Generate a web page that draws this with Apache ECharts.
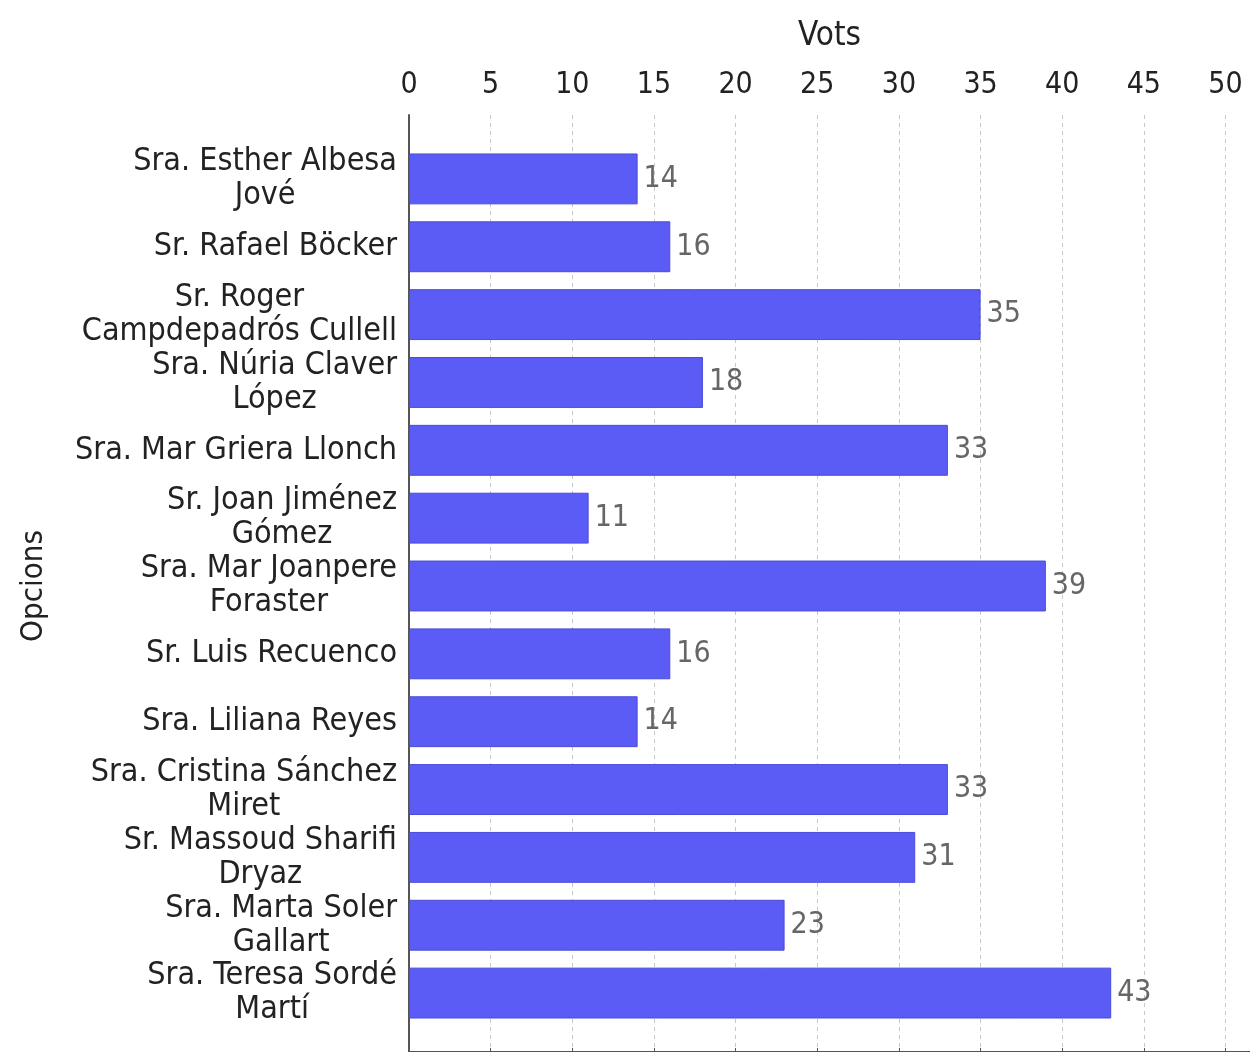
<!DOCTYPE html>
<html>
<head>
<meta charset="utf-8">
<script src="https://cdn.jsdelivr.net/npm/echarts@6/dist/echarts.min.js"></script>
<style>
  html, body { margin: 0; padding: 0; background: #fff; }
  #chart { width: 1250px; height: 1052px; }
</style>
</head>
<body>
<div id="chart"></div>
<script>
// Opcions (labels broken the same way as in the picture)
const candidates = [
  'Sra. Esther Albesa\nJové',
  'Sr. Rafael Böcker',
  'Sr. Roger\nCampdepadrós Cullell',
  'Sra. Núria Claver\nLópez',
  'Sra. Mar Griera Llonch',
  'Sr. Joan Jiménez\nGómez',
  'Sra. Mar Joanpere\nForaster',
  'Sr. Luis Recuenco',
  'Sra. Liliana Reyes',
  'Sra. Cristina Sánchez\nMiret',
  'Sr. Massoud Sharifi\nDryaz',
  'Sra. Marta Soler\nGallart',
  'Sra. Teresa Sordé\nMartí'
];
const votes = [14, 16, 35, 18, 33, 11, 39, 16, 14, 33, 31, 23, 43];

const FONT = '"DejaVu Sans Condensed", "DejaVu Sans", sans-serif';
const AXIS_MAX = 51.5;

const chart = echarts.init(document.getElementById('chart'), null, { renderer: 'canvas' });

const option = {
  backgroundColor: '#fff',
  animation: false,
  grid: [
    // frame: top axis line, dashed grid lines, left axis line
    { left: 409, top: 115, width: 842, height: 960, containLabel: false },
    // bars
    { left: 409, top: 145, width: 842, height: 882, containLabel: false }
  ],
  xAxis: [
    {
      gridIndex: 0,
      type: 'value',
      position: 'top',
      min: 0,
      max: AXIS_MAX,
      interval: 5,
      name: 'Vots',
      nameLocation: 'middle',
      nameGap: 62,
      nameTextStyle: { fontFamily: FONT, fontSize: 33, color: '#222' },
      axisLine: { show: true, lineStyle: { color: '#555', width: 2 } },
      axisTick: { show: true, length: 4, lineStyle: { color: '#555' } },
      axisLabel: {
        fontFamily: FONT, fontSize: 30, color: '#222', margin: 15,
        showMaxLabel: false,
        formatter: v => (v % 5 === 0 ? String(v) : '')
      },
      splitLine: { show: true, lineStyle: { color: '#c8c8c8', type: [4, 4], width: 1 } }
    },
    {
      gridIndex: 1,
      type: 'value',
      min: 0,
      max: AXIS_MAX,
      show: false
    }
  ],
  yAxis: [
    {
      gridIndex: 0,
      type: 'value',
      min: 0,
      max: 1,
      axisLine: { show: true, lineStyle: { color: '#555', width: 2 } },
      axisTick: { show: false },
      axisLabel: { show: false },
      splitLine: { show: false }
    },
    {
      gridIndex: 1,
      type: 'category',
      inverse: true,
      data: candidates,
      name: 'Opcions',
      nameLocation: 'middle',
      nameGap: 360,
      nameTextStyle: { fontFamily: FONT, fontSize: 31, color: '#222' },
      axisLine: { show: false },
      axisTick: { show: false },
      axisLabel: {
        margin: 12,
        formatter: v => v.split('\n').map(s => '{c|' + s + '}').join('\n'),
        rich: {
          c: { fontFamily: FONT, fontSize: 32, lineHeight: 34, color: '#222', align: 'center' }
        }
      }
    }
  ],
  series: [
    {
      type: 'bar',
      xAxisIndex: 1,
      yAxisIndex: 1,
      data: votes,
      barCategoryGap: '25%',
      itemStyle: { color: '#5b5bf6', borderColor: '#4b4bd8', borderWidth: 1 },
      label: {
        show: true,
        position: 'right',
        distance: 6,
        fontFamily: FONT,
        fontSize: 30,
        color: '#666'
      }
    }
  ]
};

chart.setOption(option);
</script>
</body>
</html>
